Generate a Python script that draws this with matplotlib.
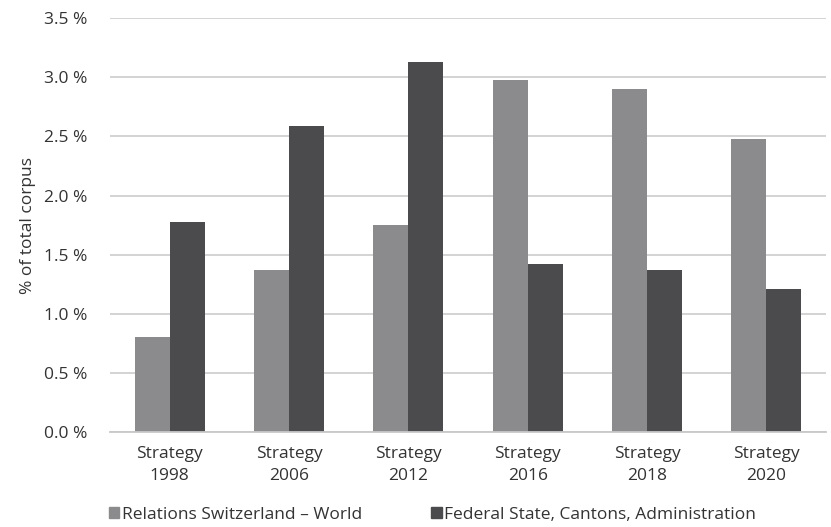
import numpy as np
import matplotlib
matplotlib.use("Agg")
import matplotlib.pyplot as plt
from matplotlib.patches import Patch

# Share of total corpus per strategy document
strategies = ["Strategy\n1998", "Strategy\n2006", "Strategy\n2012",
              "Strategy\n2016", "Strategy\n2018", "Strategy\n2020"]
relations_world = [0.80, 1.37, 1.75, 2.98, 2.90, 2.48]
federal_state = [1.78, 2.59, 3.13, 1.42, 1.37, 1.21]
series_names = ["Relations Switzerland \u2013 World",
                "Federal State, Cantons, Administration"]
y_ticks = [0.0, 0.5, 1.0, 1.5, 2.0, 2.5, 3.0, 3.5]

light = "#8b8b8e"
dark = "#4b4b4d"
text_col = "#333333"

plt.rcParams["font.family"] = ["Open Sans", "DejaVu Sans"]
plt.rcParams["font.size"] = 12.5

fig = plt.figure(figsize=(8.31, 5.27), dpi=100)
ax = fig.add_axes([0.1324, 0.18, 0.8616, 0.7858])

x = np.arange(len(strategies))
w = 0.293
ax.bar(x - w / 2, relations_world, w, color=light, zorder=3)
ax.bar(x + w / 2, federal_state, w, color=dark, zorder=3)

ax.set_xlim(-0.5, len(strategies) - 0.5)
ax.set_ylim(0, 3.5)
ax.set_yticks(y_ticks)
ax.set_yticklabels(["%.1f %%" % v for v in y_ticks], color=text_col)
ax.set_xticks(x)
ax.set_xticklabels(strategies, color=text_col, linespacing=1.5)
ax.tick_params(axis="y", length=0, pad=16)
ax.tick_params(axis="x", length=0, pad=10)
ax.yaxis.grid(True, color="#d0d0d0", linewidth=1.3, zorder=0)

for s in ["left", "right", "top"]:
    ax.spines[s].set_visible(False)
ax.spines["bottom"].set_color("#c8c8c8")
ax.spines["bottom"].set_linewidth(1.3)
ax.spines["bottom"].set_zorder(4)

ax.set_ylabel("% of total corpus", color=text_col, labelpad=6)

handles = [Patch(color=light), Patch(color=dark)]
fig.legend(handles, series_names, loc="lower left",
           bbox_to_anchor=(0.112, -0.022), ncol=2, frameon=False,
           handlelength=0.6, handleheight=0.6, handletextpad=0.15,
           columnspacing=4.0, labelcolor=text_col)

fig.savefig("out.png", dpi=100)
